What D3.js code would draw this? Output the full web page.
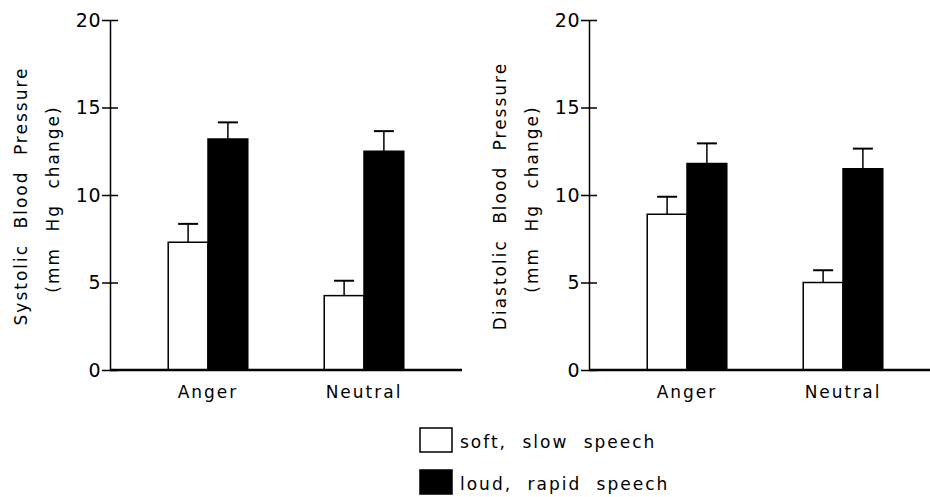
<!DOCTYPE html>
<html>
<head>
<meta charset="utf-8">
<script src="https://cdn.jsdelivr.net/npm/d3@7"></script>
<style>
    body { margin: 0; background: #fff; }
    text { font-family: "DejaVu Sans", sans-serif; fill: #000; }
    .lbl { font-size: 17px; letter-spacing: 2px; word-spacing: 8px; }
    .tick text { font-size: 19px; letter-spacing: 0.5px; }
    .tick text.lbl { font-size: 17px; letter-spacing: 2px; }
</style>
</head>
<body>
<div id="graph"></div>
<script>
var categories = ['Anger', 'Neutral'];
var series = ['soft, slow speech', 'loud, rapid speech'];
var yTicks = [0, 5, 10, 15, 20];

// systolic panel
var sysSoft = [7.3, 4.25],
    sysLoud = [13.2, 12.5],
    sysSoftErr = [1.05, 0.85],
    sysLoudErr = [0.95, 1.15];

// diastolic panel
var diaSoft = [8.9, 5.0],
    diaLoud = [11.8, 11.5],
    diaSoftErr = [1.0, 0.7],
    diaLoudErr = [1.15, 1.15];

var width = 930,
    height = 497,
    plotTop = 20,
    plotBottom = 370,
    axisLen = 352;

var svg = d3.select('#graph')
    .append('svg')
    .attr('width', width)
    .attr('height', height);

var y = d3.scaleLinear()
    .domain([0, 20])
    .range([plotBottom, plotTop]);

var x = d3.scaleBand()
    .domain(categories)
    .range([20, 332])
    .paddingInner(0.49)
    .paddingOuter(0.245);

var xs = d3.scaleBand()
    .domain(series)
    .range([0, x.bandwidth()]);

var fills = d3.scaleOrdinal()
    .domain(series)
    .range(['#fff', '#000']);

function drawPanel(left, titles, soft, loud, softErr, loudErr) {
    var g = svg.append('g')
        .attr('transform', 'translate(' + left + ',0)');

    // y axis title, two lines
    titles.forEach(function(t, i) {
        g.append('text')
            .attr('class', 'lbl')
            .attr('transform', 'translate(' + (i === 0 ? -89 : -57) + ',' + (i === 0 ? 196 : 199) + ') rotate(-90)')
            .attr('text-anchor', 'middle')
            .attr('dy', '0.35em')
            .text(t);
    });

    var yAxis = g.append('g')
        .call(d3.axisLeft(y).tickValues(yTicks).tickSize(8).tickSizeOuter(0).tickPadding(1));
    yAxis.select('.domain').attr('stroke-width', 1.5);
    yAxis.selectAll('.tick line').attr('x1', 8).attr('stroke-width', 1.5);

    var rows = [];
    categories.forEach(function(c, i) {
        rows.push({ cat: c, s: series[0], v: soft[i], e: softErr[i] });
        rows.push({ cat: c, s: series[1], v: loud[i], e: loudErr[i] });
    });

    var bars = g.selectAll('.bar')
        .data(rows)
        .enter()
        .append('g')
        .attr('class', 'bar');

    // error bars: stem then cap
    bars.append('line')
        .attr('x1', function(d) { return x(d.cat) + xs(d.s) + xs.bandwidth() / 2; })
        .attr('x2', function(d) { return x(d.cat) + xs(d.s) + xs.bandwidth() / 2; })
        .attr('y1', function(d) { return y(d.v); })
        .attr('y2', function(d) { return y(d.v + d.e); })
        .attr('stroke', '#000')
        .attr('stroke-width', 1.5);

    bars.append('line')
        .attr('x1', function(d) { return x(d.cat) + xs(d.s) + xs.bandwidth() / 2 - 10; })
        .attr('x2', function(d) { return x(d.cat) + xs(d.s) + xs.bandwidth() / 2 + 10; })
        .attr('y1', function(d) { return y(d.v + d.e); })
        .attr('y2', function(d) { return y(d.v + d.e); })
        .attr('stroke', '#000')
        .attr('stroke-width', 2);

    bars.append('rect')
        .attr('x', function(d) { return x(d.cat) + xs(d.s); })
        .attr('y', function(d) { return y(d.v); })
        .attr('width', xs.bandwidth())
        .attr('height', function(d) { return y(0) - y(d.v); })
        .attr('fill', function(d) { return fills(d.s); })
        .attr('stroke', '#000')
        .attr('stroke-width', 1.5);

    // baseline
    g.append('line')
        .attr('x1', 0)
        .attr('x2', axisLen)
        .attr('y1', y(0))
        .attr('y2', y(0))
        .attr('stroke', '#000')
        .attr('stroke-width', 2.5);

    var xAxis = g.append('g')
        .attr('transform', 'translate(0,' + plotBottom + ')')
        .call(d3.axisBottom(x).tickSize(0).tickPadding(16));
    xAxis.select('.domain').remove();
    xAxis.selectAll('text').attr('class', 'lbl');
}

drawPanel(110, ['Systolic Blood Pressure', '(mm Hg change)'], sysSoft, sysLoud, sysSoftErr, sysLoudErr);
drawPanel(589, ['Diastolic Blood Pressure', '(mm Hg change)'], diaSoft, diaLoud, diaSoftErr, diaLoudErr);

// legend
var legend = svg.append('g')
    .attr('transform', 'translate(420,428)');

var item = legend.selectAll('.item')
    .data(series)
    .enter()
    .append('g')
    .attr('class', 'item')
    .attr('transform', function(d, i) { return 'translate(0,' + (i * 42) + ')'; });

item.append('rect')
    .attr('width', 32)
    .attr('height', 24)
    .attr('fill', function(d) { return fills(d); })
    .attr('stroke', '#000')
    .attr('stroke-width', 1.5);

item.append('text')
    .attr('class', 'lbl')
    .attr('x', 40)
    .attr('y', 20)
    .text(function(d) { return d; });
</script>
</body>
</html>
